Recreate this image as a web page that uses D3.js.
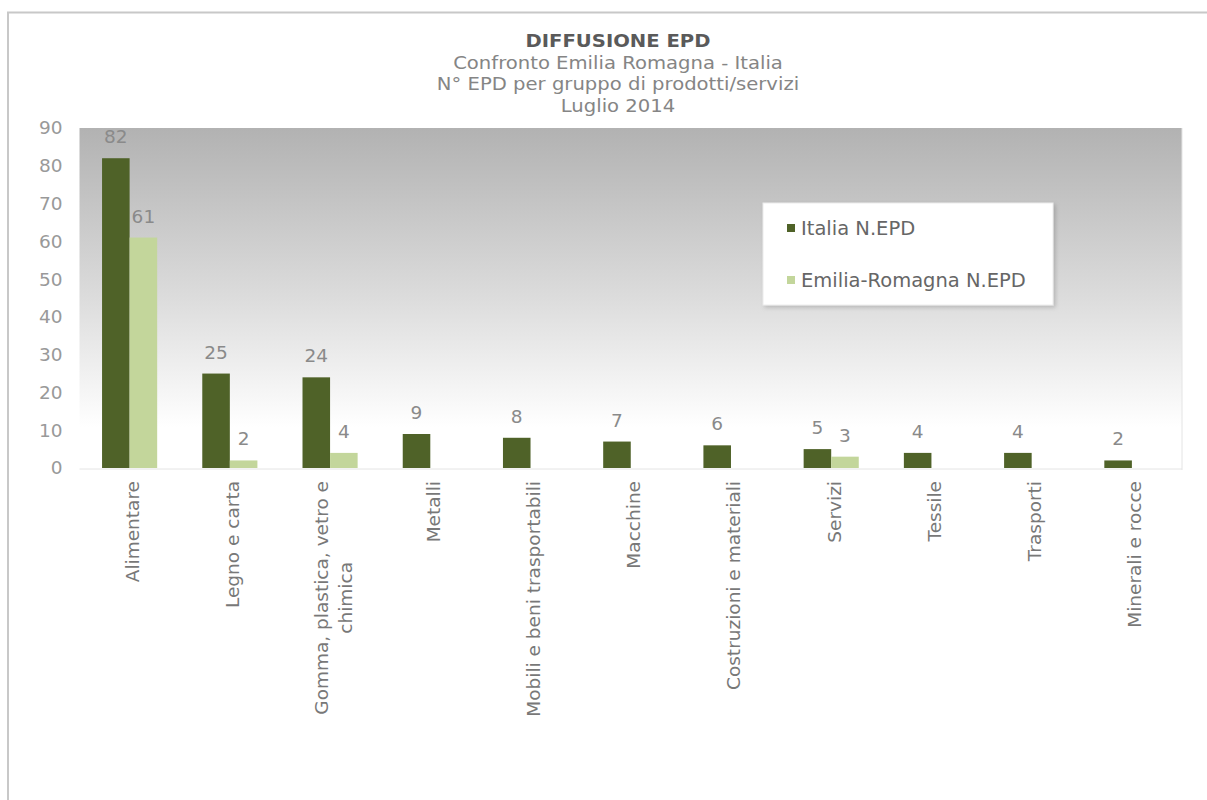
<!DOCTYPE html>
<html>
<head>
<meta charset="utf-8">
<script src="https://cdn.jsdelivr.net/npm/d3@7"></script>
<style>
  html, body { margin: 0; padding: 0; background: #ffffff; }
  svg { display: block; font-family: "DejaVu Sans", Verdana, sans-serif; }
</style>
</head>
<body>
<svg id="chart" width="1207" height="800"></svg>
<script>
// EPD counts by product/service group, Italy vs Emilia-Romagna (July 2014)
const categories = [
  "Alimentare", "Legno e carta", "Gomma, plastica, vetro e chimica", "Metalli",
  "Mobili e beni trasportabili", "Macchine", "Costruzioni e materiali",
  "Servizi", "Tessile", "Trasporti", "Minerali e rocce"
];
const italia = [82, 25, 24, 9, 8, 7, 6, 5, 4, 4, 2];
const emilia = [61, 2, 4, null, null, null, null, 3, null, null, null];
const seriesNames = ["Italia N.EPD", "Emilia-Romagna N.EPD"];
const yTicks = [0, 10, 20, 30, 40, 50, 60, 70, 80, 90];
const titleLines = [
  "DIFFUSIONE EPD",
  "Confronto Emilia Romagna - Italia",
  "N\u00B0 EPD per gruppo di prodotti/servizi",
  "Luglio 2014"
];

const colors = ["#4f6228", "#c3d69b"];
const series = [italia, emilia];

const svg = d3.select("#chart");
const plot = { left: 79.5, right: 1182, top: 128, bottom: 468 };

// outer chart frame (top and left edges visible)
svg.append("path")
  .attr("d", "M8,800 L8,12.5 L1207,12.5")
  .attr("fill", "none")
  .attr("stroke", "#c8c8c8")
  .attr("stroke-width", 2);

// plot background gradient
const defs = svg.append("defs");
const grad = defs.append("linearGradient")
  .attr("id", "plotBg").attr("x1", 0).attr("y1", 0).attr("x2", 0).attr("y2", 1);
grad.append("stop").attr("offset", "0%").attr("stop-color", "#b2b2b2");
grad.append("stop").attr("offset", "50%").attr("stop-color", "#dcdcdc");
grad.append("stop").attr("offset", "88%").attr("stop-color", "#ffffff");
grad.append("stop").attr("offset", "100%").attr("stop-color", "#ffffff");

const shadow = defs.append("filter").attr("id", "legendShadow")
  .attr("x", "-5%").attr("y", "-5%").attr("width", "112%").attr("height", "120%");
shadow.append("feDropShadow").attr("dx", 2).attr("dy", 2).attr("stdDeviation", 2)
  .attr("flood-color", "#000").attr("flood-opacity", 0.18);

svg.append("rect")
  .attr("x", plot.left).attr("y", plot.top)
  .attr("width", plot.right - plot.left).attr("height", plot.bottom - plot.top)
  .attr("fill", "url(#plotBg)");

// faint plot edges
svg.append("path")
  .attr("d", `M${plot.right},${plot.top} L${plot.right},${plot.bottom + 2} M${plot.left},${plot.bottom + 1} L${plot.right},${plot.bottom + 1}`)
  .attr("fill", "none").attr("stroke", "#e4e4e4").attr("stroke-width", 1);

// scales
const x = d3.scaleBand().domain(categories).range([plot.left, plot.right]);
const y = d3.scaleLinear().domain([0, 90]).range([plot.bottom, plot.top]);
const barW = x.bandwidth() * 0.275;

// y axis
const yAxis = svg.append("g")
  .attr("transform", `translate(${plot.left - 17},0)`)
  .call(d3.axisLeft(y).tickValues(yTicks).tickSize(0).tickPadding(0).tickFormat(d3.format("d")));
yAxis.select(".domain").remove();
yAxis.selectAll("text")
  .attr("fill", "#999999")
  .style("font-size", "18.5px")
  .style("font-family", "'DejaVu Sans', Verdana, sans-serif");

// bars and value labels
series.forEach((vals, si) => {
  const g = svg.append("g");
  const data = categories.map((c, i) => ({ c, v: vals[i] })).filter(d => d.v !== null);
  const bx = d => x(d.c) + x.bandwidth() / 2 + (si === 0 ? -barW : 0);
  g.selectAll("rect").data(data).join("rect")
    .attr("x", bx)
    .attr("y", d => y(d.v))
    .attr("width", barW)
    .attr("height", d => y(0) - y(d.v))
    .attr("fill", colors[si]);
  g.selectAll("text").data(data).join("text")
    .attr("x", d => bx(d) + barW / 2)
    .attr("y", d => y(d.v) - 15)
    .attr("text-anchor", "middle")
    .attr("fill", "#8a8a8a")
    .style("font-size", "18.5px")
    .text(d => d.v);
});

// category labels, rotated, wrapped when too long
function wrapWords(text, maxW, measure) {
  const words = text.split(" ");
  const lines = [];
  let cur = "";
  words.forEach(w => {
    const t = cur ? cur + " " + w : w;
    if (cur && measure(t) > maxW) { lines.push(cur); cur = w; }
    else cur = t;
  });
  if (cur) lines.push(cur);
  return lines;
}
const probe = svg.append("text").style("font-size", "18.5px").attr("visibility", "hidden");
const measure = s => { probe.text(s); return probe.node().getComputedTextLength(); };

const catG = svg.append("g");
categories.forEach(c => {
  const lines = wrapWords(c, 270, measure);
  const maxLen = d3.max(lines, measure);
  const cx = x(c) + x.bandwidth() / 2 + 3;
  const lh = 24;
  lines.forEach((ln, li) => {
    const off = (li - (lines.length - 1) / 2) * lh;
    catG.append("text")
      .attr("transform", `translate(${cx + off},${plot.bottom + 13 + maxLen / 2}) rotate(-90)`)
      .attr("text-anchor", "middle")
      .attr("dy", "0.35em")
      .attr("fill", "#787878")
      .style("font-size", "18.5px")
      .text(ln);
  });
});
probe.remove();

// title block (slightly widened lettering)
const titleG = svg.append("g");
titleLines.forEach((t, i) => {
  titleG.append("text")
    .attr("transform", `translate(618,${47 + i * 21.5}) scale(1.09,1)`)
    .attr("text-anchor", "middle")
    .attr("fill", i === 0 ? "#5a5a5a" : "#858585")
    .style("font-size", "18px")
    .style("font-weight", i === 0 ? "bold" : "normal")
    .text(t);
});

// legend
const legend = svg.append("g");
legend.append("rect")
  .attr("x", 763).attr("y", 203).attr("width", 290).attr("height", 102)
  .attr("fill", "#ffffff").attr("stroke", "#ececec")
  .attr("filter", "url(#legendShadow)");
seriesNames.forEach((name, i) => {
  const cy = 228 + i * 52;
  legend.append("rect")
    .attr("x", 787).attr("y", cy - 4).attr("width", 8).attr("height", 8)
    .attr("fill", colors[i]);
  legend.append("text")
    .attr("x", 801).attr("y", cy).attr("dy", "0.35em")
    .attr("fill", "#666666")
    .style("font-size", "19.5px")
    .text(name);
});
</script>
</body>
</html>
